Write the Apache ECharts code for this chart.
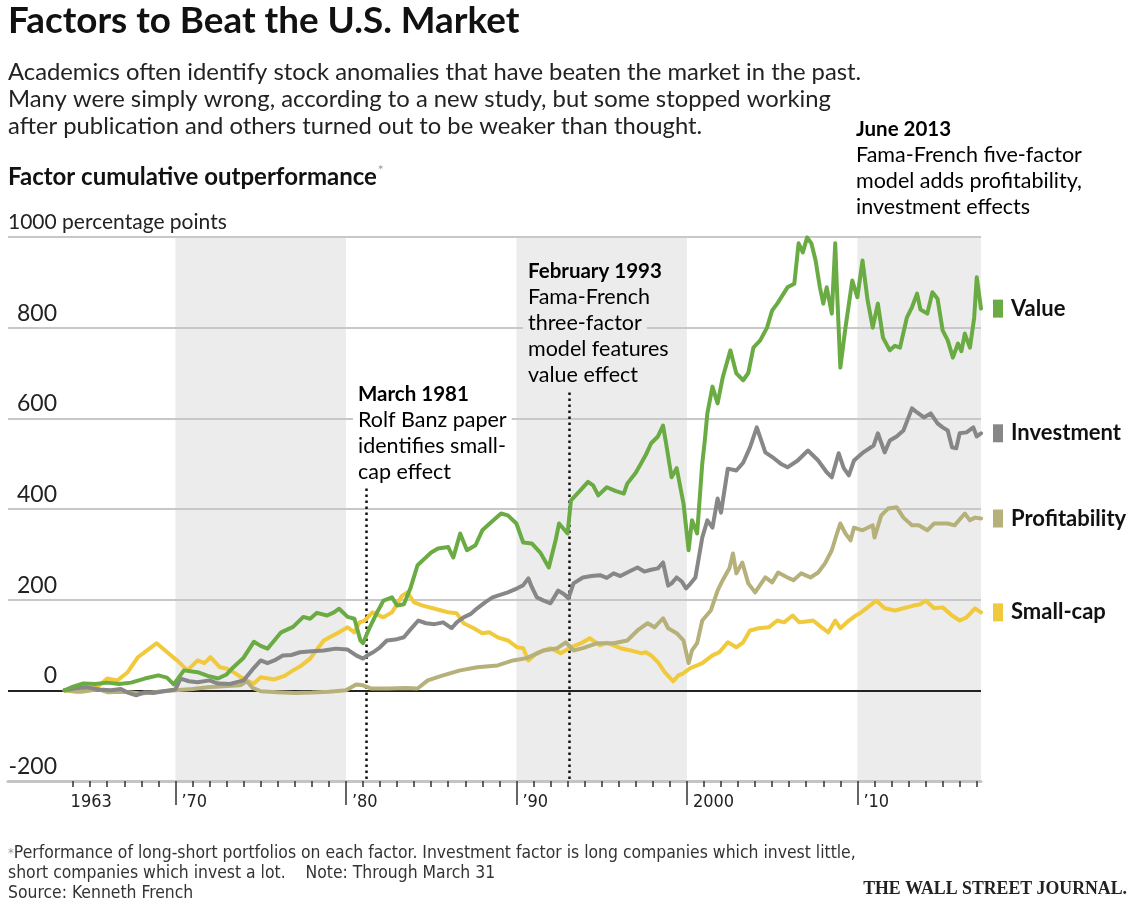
<!DOCTYPE html>
<html>
<head>
<meta charset="utf-8">
<script src="https://cdn.jsdelivr.net/npm/echarts@6/dist/echarts.min.js"></script>
<style>
html,body{margin:0;padding:0;background:#fff;}
#chart{width:1132px;height:914px;}
</style>
</head>
<body>
<div id="chart"></div>
<script>
// ---------- DATA ----------
const seriesNames = ['Small-cap', 'Profitability', 'Investment', 'Value'];

const valueData = [[1963.5,0],[1964.0,8],[1964.6,15],[1965.3,14],[1966.0,17],[1966.7,14],[1967.4,17],[1968.2,26],[1969.0,33],[1969.5,28],[1969.9,13],[1970.5,44],[1971.3,40],[1971.9,32],[1972.5,26],[1973.0,35],[1973.4,51],[1974.0,72],[1974.6,107],[1975.0,98],[1975.4,92],[1975.8,110],[1976.2,128],[1976.9,140],[1977.5,162],[1977.9,158],[1978.3,171],[1978.9,165],[1979.3,172],[1979.6,180],[1980.1,162],[1980.5,158],[1980.85,110],[1981.0,104],[1981.4,139],[1981.8,170],[1982.2,198],[1982.7,205],[1983.0,187],[1983.4,190],[1983.8,227],[1984.2,276],[1984.6,290],[1985.0,304],[1985.4,313],[1986.0,316],[1986.3,293],[1986.7,346],[1987.1,309],[1987.6,320],[1988.0,353],[1988.5,370],[1989.1,390],[1989.5,386],[1990.0,368],[1990.4,326],[1990.9,324],[1991.4,304],[1991.9,271],[1992.3,331],[1992.5,368],[1993.0,346],[1993.2,419],[1993.75,441],[1994.2,460],[1994.5,452],[1994.8,430],[1995.3,448],[1995.8,440],[1996.3,434],[1996.5,456],[1997.0,480],[1997.3,500],[1997.6,520],[1997.9,545],[1998.3,560],[1998.6,584],[1998.8,540],[1999.1,470],[1999.4,490],[1999.8,412],[2000.1,309],[2000.3,375],[2000.6,346],[2000.9,500],[2001.05,551],[2001.2,611],[2001.5,670],[2001.8,633],[2002.1,690],[2002.55,750],[2002.9,699],[2003.3,684],[2003.6,700],[2003.9,756],[2004.3,772],[2004.7,800],[2005.0,838],[2005.3,853],[2005.9,889],[2006.3,897],[2006.55,986],[2006.8,966],[2007.05,999],[2007.3,986],[2007.55,948],[2007.8,889],[2008.0,853],[2008.2,889],[2008.5,831],[2008.7,986],[2008.8,887],[2009.0,712],[2009.3,800],[2009.7,904],[2010.0,867],[2010.3,948],[2010.6,860],[2010.9,800],[2011.2,853],[2011.5,778],[2011.9,750],[2012.2,760],[2012.5,756],[2012.9,822],[2013.2,845],[2013.5,875],[2013.7,840],[2014.1,831],[2014.4,878],[2014.7,864],[2015.0,794],[2015.3,772],[2015.6,734],[2015.9,765],[2016.1,748],[2016.3,787],[2016.6,756],[2016.85,822],[2017.0,911],[2017.25,842]];

const investmentData = [[1963.5,0],[1964.2,5],[1964.8,7],[1965.5,2],[1966.2,0],[1966.8,3],[1967.2,-5],[1967.7,-11],[1968.2,-4],[1968.7,-6],[1969.3,-2],[1970.0,2],[1970.3,26],[1970.8,20],[1971.3,18],[1972.0,22],[1972.5,15],[1973.2,14],[1973.6,18],[1974.0,22],[1974.5,45],[1975.0,66],[1975.4,60],[1975.8,66],[1976.3,77],[1976.8,78],[1977.3,84],[1978.0,86],[1978.7,88],[1979.4,92],[1980.1,90],[1980.6,77],[1981.0,70],[1981.3,78],[1981.6,84],[1982.0,95],[1982.4,110],[1982.9,112],[1983.4,117],[1983.8,135],[1984.25,154],[1984.7,148],[1985.2,146],[1985.7,150],[1986.2,137],[1986.5,150],[1986.9,161],[1987.3,168],[1987.7,181],[1988.2,195],[1988.6,205],[1989.0,210],[1989.5,216],[1990.05,225],[1990.4,232],[1990.7,247],[1990.9,228],[1991.2,205],[1991.6,198],[1992.0,192],[1992.45,220],[1992.8,212],[1993.05,203],[1993.35,236],[1993.9,249],[1994.4,252],[1994.9,254],[1995.3,248],[1995.7,258],[1996.1,252],[1996.5,260],[1997.1,271],[1997.5,262],[1997.9,266],[1998.3,269],[1998.6,282],[1998.9,231],[1999.1,236],[1999.4,249],[1999.7,240],[1999.95,225],[2000.2,235],[2000.5,249],[2000.9,337],[2001.2,375],[2001.5,359],[2001.8,423],[2002.0,392],[2002.4,489],[2002.9,485],[2003.3,502],[2003.7,536],[2004.1,580],[2004.6,525],[2005.1,512],[2005.5,500],[2005.9,492],[2006.5,507],[2007.1,529],[2007.7,507],[2008.2,481],[2008.5,470],[2008.9,523],[2009.2,490],[2009.5,474],[2009.8,507],[2010.35,525],[2010.95,540],[2011.2,567],[2011.6,525],[2011.9,551],[2012.3,560],[2012.7,573],[2013.2,622],[2013.5,613],[2013.9,602],[2014.3,611],[2014.7,589],[2015.0,580],[2015.3,573],[2015.55,536],[2015.8,534],[2016.0,567],[2016.4,569],[2016.8,580],[2017.0,560],[2017.25,567]];

const profitabilityData = [[1963.5,0],[1964.5,-2],[1965.5,2],[1966.0,-4],[1967.0,-3],[1968.0,-7],[1969.0,-3],[1970.0,0],[1971.0,3],[1971.9,7],[1972.8,9],[1973.8,11],[1974.2,20],[1974.5,6],[1975.0,-2],[1976.0,-4],[1977.0,-6],[1978.0,-5],[1979.0,-3],[1980.0,0],[1980.6,13],[1981.0,11],[1981.5,4],[1982.5,4],[1983.5,5],[1984.2,4],[1984.8,22],[1985.7,33],[1986.7,44],[1987.7,51],[1988.9,55],[1989.8,66],[1990.6,71],[1991.6,88],[1992.4,93],[1992.9,106],[1993.35,88],[1993.9,93],[1994.75,104],[1995.7,104],[1996.5,110],[1997.1,132],[1997.7,148],[1998.1,139],[1998.6,159],[1998.9,137],[1999.4,126],[1999.8,110],[2000.1,60],[2000.3,88],[2000.6,104],[2000.9,154],[2001.4,176],[2001.8,220],[2002.1,243],[2002.5,270],[2002.7,302],[2002.9,258],[2003.25,282],[2003.6,236],[2004.0,216],[2004.6,249],[2005.0,238],[2005.35,260],[2005.9,249],[2006.25,243],[2006.7,258],[2007.25,249],[2007.7,260],[2008.1,280],[2008.5,309],[2008.8,346],[2009.0,368],[2009.3,346],[2009.6,331],[2009.8,359],[2010.3,353],[2010.9,364],[2011.0,337],[2011.4,386],[2011.8,401],[2012.3,404],[2012.7,381],[2013.2,364],[2013.6,364],[2014.1,353],[2014.5,368],[2015.3,368],[2015.7,364],[2016.3,390],[2016.6,375],[2016.9,381],[2017.25,379]];

const smallCapData = [[1963.5,0],[1964.2,-4],[1964.8,-2],[1965.5,10],[1966.0,26],[1966.6,22],[1967.2,40],[1967.8,73],[1968.4,90],[1968.9,104],[1969.4,88],[1969.8,75],[1970.1,66],[1970.7,44],[1971.3,66],[1971.7,60],[1972.05,73],[1972.6,51],[1973.0,48],[1973.4,40],[1974.0,25],[1974.6,15],[1975.0,29],[1975.8,24],[1976.4,32],[1976.9,44],[1977.4,55],[1977.9,70],[1978.3,90],[1978.7,110],[1979.1,118],[1979.5,126],[1980.1,139],[1980.5,128],[1980.8,150],[1981.1,154],[1981.55,172],[1982.2,161],[1982.7,172],[1983.3,209],[1983.6,216],[1984.0,194],[1984.5,187],[1985.1,181],[1985.6,176],[1986.0,172],[1986.5,170],[1986.9,148],[1987.5,137],[1988.0,126],[1988.4,128],[1988.9,117],[1989.5,110],[1990.05,95],[1990.4,93],[1990.7,66],[1991.2,82],[1991.6,88],[1992.0,93],[1992.6,82],[1993.2,95],[1993.9,106],[1994.3,115],[1994.9,99],[1995.3,105],[1995.7,99],[1996.1,93],[1996.7,88],[1997.3,82],[1997.6,84],[1997.9,77],[1998.3,62],[1998.7,40],[1999.2,20],[1999.5,33],[1999.75,37],[2000.2,49],[2000.6,55],[2000.9,60],[2001.5,77],[2001.9,84],[2002.4,106],[2002.9,95],[2003.3,106],[2003.7,132],[2004.2,137],[2004.8,139],[2005.3,154],[2005.7,150],[2006.2,165],[2006.6,150],[2007.0,152],[2007.4,154],[2007.9,139],[2008.3,128],[2008.7,154],[2009.0,137],[2009.5,154],[2009.9,165],[2010.15,170],[2010.6,183],[2011.1,198],[2011.6,181],[2012.2,176],[2012.7,181],[2013.3,187],[2013.7,190],[2014.0,198],[2014.5,181],[2015.0,183],[2015.55,165],[2016.0,154],[2016.4,161],[2016.9,181],[2017.25,172]];

// shaded decades
const bandRanges = [[1970, 1980], [1990, 2000], [2010, 2017.25]];
// annotation events: [year, top of dotted line (value)]
const eventYears = [1981.2, 1993.1, 2013.45];
const eventTops = [445, 657, 1036];

// axis ticks & labels
const yLabelValues = [-200, 0, 200, 400, 600, 800];
const yTopValue = [1000];
const xLabelValues = [1963.5, 1970, 1980, 1990, 2000, 2010];
const xLabelTexts = ['1963', "\u201970", "\u201980", "\u201990", '2000', "\u201910"];
const yearTicks = [];
for (let y = 1964; y <= 2017; y++) yearTicks.push(y);
const decadeTicks = [1970, 1980, 1990, 2000, 2010];

// ---------- STYLE ----------
const colors = {
  'Value': '#6aab43',
  'Investment': '#878787',
  'Profitability': '#b6b07b',
  'Small-cap': '#f1c93c'
};
const seriesData = {
  'Value': valueData,
  'Investment': investmentData,
  'Profitability': profitabilityData,
  'Small-cap': smallCapData
};
const SANS = "Lato, 'Open Sans', sans-serif";
const NARROW = "'Liberation Sans Narrow', 'DejaVu Sans Condensed', 'Roboto Condensed', Roboto, sans-serif";
const BAND = '#ececec';

const chart = echarts.init(document.getElementById('chart'), null, {renderer: 'canvas'});

const lineSeries = seriesNames.map(name => ({
  name: name,
  type: 'line',
  data: seriesData[name],
  showSymbol: false,
  symbol: 'none',
  z: 5,
  lineStyle: {color: colors[name], width: 4, join: 'round', cap: 'round'},
  itemStyle: {color: colors[name]},
  endLabel: {
    show: true,
    distance: 12,
    formatter: '{m|}{t|' + name + '}',
    rich: {
      m: {width: 10, height: 18, backgroundColor: colors[name]},
      t: {fontFamily: SANS, fontWeight: 'bold', fontSize: 22, color: '#111', padding: [0, 0, 0, 8]}
    }
  },
  emphasis: {disabled: true}
}));

const markerSeries = {
  name: 'bands',
  type: 'line',
  data: [],
  z: 1,
  clip: false,
  silent: true,
  markArea: {
    silent: true,
    z: 0,
    itemStyle: {color: BAND},
    data: bandRanges.map(r => [{xAxis: r[0], yAxis: 1000}, {xAxis: r[1], yAxis: -200}])
  }
};
const dotSeries = {
  name: 'events',
  type: 'line',
  data: [],
  z: 4,
  clip: false,
  silent: true,
  markLine: {
    silent: true,
    z: 4,
    symbol: ['none', 'none'],
    label: {show: false},
    lineStyle: {color: '#111', width: 2.5, type: [2.5, 3.5]},
    data: eventYears.map((yr, i) => [{coord: [yr, eventTops[i]]}, {coord: [yr, -200]}])
  }
};

function annot(x, y, lines, bg) {
  const rich = {
    b: {fontFamily: SANS, fontWeight: 'bold', fontSize: 20.5, color: '#111', lineHeight: 26, backgroundColor: bg, padding: [0, 5]},
    r: {fontFamily: SANS, fontSize: 21.5, color: '#222', lineHeight: 26, backgroundColor: bg, padding: [0, 5]}
  };
  const text = lines.map((l, i) => (i === 0 ? '{b|' : '{r|') + l + '}').join('\n');
  return {type: 'text', left: x - 5, top: y, z: 50, style: {text: text, rich: rich}};
}

const option = {
  animation: false,
  backgroundColor: '#fff',
  grid: {left: 8, right: 151, top: 237, bottom: 133, containLabel: false},
  xAxis: [{
    type: 'value', min: 1960.18, max: 2017.25, z: 3,
    splitLine: {show: false},
    axisLine: {show: true, onZero: false, lineStyle: {color: '#c4c4c4', width: 3}},
    axisTick: {show: true, customValues: yearTicks, length: 6, lineStyle: {color: '#333', width: 1.5}},
    axisLabel: {
      show: true, customValues: xLabelValues, margin: 12,
      formatter: v => xLabelTexts[xLabelValues.indexOf(v)] || '',
      fontFamily: NARROW, fontSize: 18, color: '#222', align: 'left', padding: [0, 0, 0, 6]
    }
  }, {
    type: 'value', min: 1960.18, max: 2017.25, position: 'bottom', z: 3,
    splitLine: {show: false},
    axisLine: {show: false, onZero: false},
    axisTick: {show: true, customValues: decadeTicks, length: 24, lineStyle: {color: '#333', width: 1.5}},
    axisLabel: {show: false}
  }],
  yAxis: [{
    type: 'value', min: -200, max: 1000, interval: 200, z: 3,
    axisLine: {show: false}, axisTick: {show: false},
    splitLine: {show: true, lineStyle: {width: 2, color: ['#c4c4c4', '#222', '#c8c8c8', '#c8c8c8', '#c8c8c8', '#c8c8c8', '#c8c8c8']}},
    axisLabel: {
      show: true, inside: true, customValues: yLabelValues, margin: 49, align: 'right',
      verticalAlign: 'bottom', padding: [0, 0, 3, 0],
      fontFamily: SANS, fontSize: 23, color: '#222',
      formatter: v => (v < 0 ? '-' + Math.abs(v) : String(v))
    }
  }, {
    type: 'value', min: -200, max: 1000, interval: 200, position: 'left', z: 3,
    axisLine: {show: false}, axisTick: {show: false}, splitLine: {show: false},
    axisLabel: {
      show: true, inside: true, customValues: yTopValue, margin: 0, align: 'left',
      verticalAlign: 'bottom', padding: [0, 0, 4, 0],
      fontFamily: SANS, fontSize: 21, color: '#222',
      formatter: v => v + ' percentage points'
    }
  }],
  series: [markerSeries, dotSeries].concat(lineSeries),
  graphic: [
    {type: 'text', left: 8, top: 3, style: {text: 'Factors to Beat the U.S. Market', fontFamily: SANS, fontWeight: 'bold', fontSize: 36.8, fill: '#111'}},
    {type: 'text', left: 8, top: 59, style: {
      text: 'Academics often identify stock anomalies that have beaten the market in the past.\nMany were simply wrong, according to a new study, but some stopped working\nafter publication and others turned out to be weaker than thought.',
      fontFamily: SANS, fontSize: 23.8, lineHeight: 27, fill: '#222'}},
    {type: 'text', left: 8, top: 163, style: {
      text: '{t|Factor cumulative outperformance}{a|*}',
      rich: {
        t: {fontFamily: SANS, fontWeight: 'bold', fontSize: 24, fill: '#111', lineHeight: 28},
        a: {fontFamily: SANS, fontSize: 14, fill: '#999', verticalAlign: 'top', lineHeight: 28, padding: [0, 0, 10, 1]}
      }}},
    annot(358, 384, ['March 1981', 'Rolf Banz paper', 'identifies small-', 'cap effect'], '#fff'),
    annot(528, 261, ['February 1993', 'Fama-French', 'three-factor', 'model features', 'value effect'], BAND),
    annot(856, 119, ['June 2013', 'Fama-French five-factor', 'model adds profitability,', 'investment effects'], '#fff'),
    {type: 'text', left: 8, top: 845, style: {
      text: '{a|*}{t|Performance of long-short portfolios on each factor. Investment factor is long companies which invest little,}\n{t|short companies which invest a lot.    Note: Through March 31}\n{t|Source: Kenneth French}',
      rich: {
        t: {fontFamily: NARROW, fontSize: 17.4, fill: '#333', lineHeight: 20},
        a: {fontFamily: NARROW, fontSize: 13, fill: '#999', lineHeight: 20}
      }}},
    {type: 'text', right: 5, top: 880, style: {
      text: 'THE WALL STREET JOURNAL.', fontFamily: "'Liberation Serif', 'DejaVu Serif', serif",
      fontWeight: 'bold', fontSize: 17.8, fill: '#222'}}
  ]
};
chart.setOption(option);
</script>
</body>
</html>
